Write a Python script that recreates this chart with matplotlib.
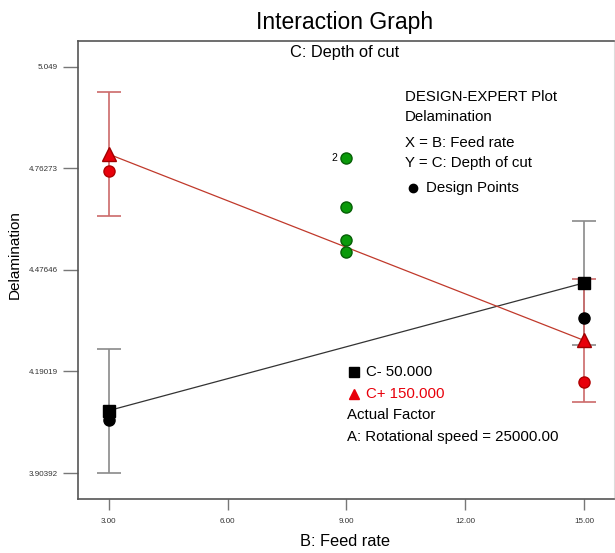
import matplotlib
matplotlib.use("Agg")
import matplotlib.pyplot as plt

plt.rcParams['font.family'] = ['Liberation Sans', 'DejaVu Sans']

# data
feed = [3.0, 15.0]
c_minus = [4.080, 4.440]       # C- 50.000 (black squares)
c_plus = [4.803, 4.278]        # C+ 150.000 (red triangles)
c_minus_err = [0.175, 0.174]
c_plus_err = [0.175, 0.174]
black_pts_x = [3.0, 15.0]
black_pts_y = [4.053, 4.341]
red_pts_x = [3.0, 15.0]
red_pts_y = [4.756, 4.161]
green_x = [9.0, 9.0, 9.0, 9.0]
green_y = [4.792, 4.654, 4.561, 4.527]

yticks = [3.90392, 4.19019, 4.47646, 4.76273, 5.049]
ytick_labels = ["3.90392", "4.19019", "4.47646", "4.76273", "5.049"]
xticks = [3, 6, 9, 12, 15]
xtick_labels = ["3.00", "6.00", "9.00", "12.00", "15.00"]

W, H = 615, 553
fig = plt.figure(figsize=(W / 100, H / 100), dpi=100)
ax = fig.add_axes([78 / W, 1 - 499 / H, 536 / W, 458 / H])

red = "#c0392b"
red_bar = "#cc6a6a"

ax.errorbar(feed, c_minus, yerr=c_minus_err, fmt="none", ecolor="#8a8a8a",
            elinewidth=1.2, capsize=8.5, capthick=1.2, zorder=2)
ax.errorbar(feed, c_plus, yerr=c_plus_err, fmt="none", ecolor=red_bar,
            elinewidth=1.2, capsize=8.5, capthick=1.2, zorder=2)
ax.plot(feed, c_minus, color="#333333", lw=0.9, zorder=3)
ax.plot(feed, c_plus, color=red, lw=0.9, zorder=3)
ax.plot(black_pts_x, black_pts_y, "o", color="black", ms=8, zorder=4)
ax.plot(red_pts_x, red_pts_y, "o", color="#e8000b", mec="#b00000", ms=8, zorder=4)
ax.plot(feed, c_minus, "s", color="black", ms=9, zorder=5)
ax.plot(feed, c_plus, "^", color="#e8000b", mec="#a00000", ms=10, zorder=5)
ax.plot(green_x, green_y, "o", color="#0a9a0a", mec="#065f06", ms=8, zorder=4)
ax.text(green_x[0] - 0.22, green_y[0], "2", fontsize=7.5, ha="right", va="center")

ax.set_xlim(2.22, 15.76)
ax.set_ylim(3.8306, 5.1223)
ax.set_xticks(xticks)
ax.set_xticklabels(xtick_labels)
ax.set_yticks(yticks)
ax.set_yticklabels(ytick_labels)
ax.tick_params(axis="y", length=11, width=1, color="#777777", pad=3.5,
               labelsize=5.8, labelcolor="#333333")
ax.tick_params(axis="x", length=8, width=1, color="#777777", pad=6,
               labelsize=5.8, labelcolor="#333333")
for s in ["left", "bottom", "top"]:
    ax.spines[s].set_color("#555555")
    ax.spines[s].set_linewidth(1.2)
ax.spines["right"].set_color("#dddddd")

def ftext(x, y, s, **kw):
    fig.text(x / W, 1 - y / H, s, **kw)

ftext(345, 22, "Interaction Graph", fontsize=16.5, ha="center", va="center")
ftext(345, 53, "C: Depth of cut", fontsize=11.8, ha="center", va="center")
ftext(15, 255, "Delamination", fontsize=11, ha="center", va="center", rotation=90)
ftext(345, 542, "B: Feed rate", fontsize=11.8, ha="center", va="center")

fs = 10.8
ftext(405, 97, "DESIGN-EXPERT Plot", fontsize=fs, va="center")
ftext(405, 117, "Delamination", fontsize=fs, va="center")
ftext(405, 143, "X = B: Feed rate", fontsize=fs, va="center")
ftext(405, 163, "Y = C: Depth of cut", fontsize=fs, va="center")
ax.plot([413 / W], [1 - 188 / H], "o", color="black", ms=6,
        transform=fig.transFigure, clip_on=False)
ftext(426, 188, "Design Points", fontsize=fs, va="center")

ax.plot([354 / W], [1 - 372 / H], "s", color="black", ms=7,
        transform=fig.transFigure, clip_on=False)
ftext(366, 372, "C- 50.000", fontsize=fs, va="center")
ax.plot([354 / W], [1 - 394 / H], "^", color="#e8000b", ms=7,
        transform=fig.transFigure, clip_on=False)
ftext(366, 394, "C+ 150.000", fontsize=fs, va="center", color="#e8000b")
ftext(347, 415, "Actual Factor", fontsize=fs, va="center")
ftext(347, 437, "A: Rotational speed = 25000.00", fontsize=fs, va="center")

fig.savefig("out.png", dpi=100)
